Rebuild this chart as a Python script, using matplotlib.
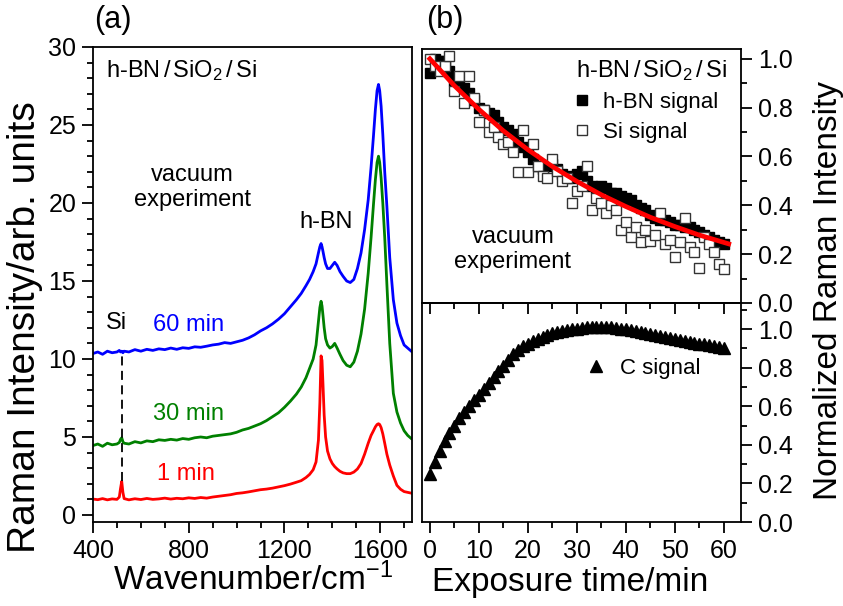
import numpy as np
import matplotlib
matplotlib.use("Agg")
import matplotlib.pyplot as plt
from matplotlib.ticker import MultipleLocator, FormatStrFormatter

plt.rcParams['font.family'] = ['Liberation Sans', 'DejaVu Sans']
plt.rcParams['mathtext.fontset'] = 'custom'
plt.rcParams['mathtext.rm'] = 'Liberation Sans'
plt.rcParams['mathtext.it'] = 'Liberation Sans:italic'

# ---------------- Panel (a): Raman spectra ----------------
wavenumber = np.array([
    400, 420, 440, 460, 480, 500, 510, 515, 520, 525,
    530, 550, 575, 600, 625, 650, 675, 700, 725, 750,
    775, 800, 825, 850, 875, 900, 925, 950, 975, 1000,
    1025, 1050, 1075, 1100, 1125, 1150, 1175, 1200, 1225, 1250,
    1270, 1290, 1305, 1320, 1332, 1342, 1348, 1353, 1357, 1361,
    1366, 1372, 1380, 1390, 1400, 1410, 1420, 1432, 1445, 1460,
    1475, 1490, 1505, 1520, 1535, 1550, 1562, 1572, 1580, 1587,
    1593, 1598, 1604, 1611, 1619, 1628, 1640, 1655, 1670, 1685,
    1700, 1715, 1730])

int_1min = np.array([
    1.02, 0.98, 1.05, 0.97, 1.03, 1.00, 1.15, 1.70, 2.15, 1.45,
    1.05, 0.97, 1.04, 0.99, 1.06, 1.00, 1.03, 1.08, 1.02, 1.07,
    1.04, 1.10, 1.06, 1.12, 1.08, 1.15, 1.20, 1.25, 1.30, 1.38,
    1.42, 1.48, 1.55, 1.62, 1.66, 1.72, 1.80, 1.88, 1.98, 2.10,
    2.20, 2.40, 2.60, 2.90, 3.40, 4.80, 7.20, 10.20, 9.90, 8.40,
    6.40, 5.00, 4.10, 3.60, 3.30, 3.10, 2.95, 2.80, 2.70, 2.65,
    2.65, 2.75, 2.95, 3.30, 3.90, 4.60, 5.10, 5.40, 5.65, 5.80,
    5.85, 5.80, 5.60, 5.20, 4.60, 3.90, 3.20, 2.50, 1.90, 1.65,
    1.50, 1.45, 1.40])

int_30min = np.array([
    4.45, 4.55, 4.40, 4.60, 4.50, 4.55, 4.65, 4.85, 4.95, 4.70,
    4.60, 4.55, 4.70, 4.62, 4.75, 4.70, 4.82, 4.78, 4.85, 4.80,
    4.90, 4.85, 4.95, 5.00, 4.95, 5.05, 5.10, 5.15, 5.20, 5.30,
    5.45, 5.55, 5.70, 5.85, 6.05, 6.30, 6.55, 6.90, 7.30, 7.75,
    8.20, 8.80, 9.40, 10.00, 10.90, 12.40, 13.30, 13.70, 13.40, 12.80,
    12.00, 11.30, 10.90, 10.70, 10.80, 11.00, 10.70, 10.30, 9.90, 9.60,
    9.50, 9.80, 10.50, 11.60, 13.20, 15.50, 17.80, 19.90, 21.50, 22.60,
    23.00, 22.60, 21.60, 20.00, 17.80, 14.80, 11.00, 7.80, 6.60, 5.90,
    5.40, 5.10, 4.90])

int_60min = np.array([
    10.35, 10.45, 10.30, 10.50, 10.40, 10.45, 10.55, 10.45, 10.50, 10.40,
    10.50, 10.45, 10.60, 10.50, 10.62, 10.55, 10.65, 10.60, 10.70, 10.62,
    10.72, 10.68, 10.78, 10.75, 10.82, 10.90, 10.95, 11.05, 11.00, 11.10,
    11.20, 11.35, 11.55, 11.80, 12.00, 12.25, 12.55, 12.90, 13.35, 13.80,
    14.20, 14.70, 15.10, 15.60, 16.10, 16.80, 17.20, 17.40, 17.20, 16.90,
    16.50, 16.10, 15.80, 15.80, 16.00, 16.20, 16.00, 15.60, 15.30, 15.00,
    14.90, 15.10, 15.80, 16.80, 18.30, 20.20, 22.30, 24.30, 26.00, 27.20,
    27.60, 27.20, 26.20, 24.40, 22.00, 19.80, 16.50, 13.80, 12.30, 11.50,
    10.90, 10.70, 10.50])

si_peak_position = 520
si_line_range = (2.2, 10.2)

# ---------------- Panel (b): normalized intensities ----------------
time_min = np.arange(0, 61)

hbn_signal = [
    0.94, 1.00, 0.99, 0.99, 0.95, 0.91, 0.90, 0.88, 0.86, 0.83,
    0.80, 0.79, 0.78, 0.77, 0.74, 0.72, 0.71, 0.69, 0.66, 0.64,
    0.62, 0.59, 0.56, 0.55, 0.56, 0.57, 0.55, 0.53, 0.52, 0.51,
    0.53, 0.54, 0.50, 0.48, 0.47, 0.48, 0.47, 0.45, 0.45, 0.44,
    0.43, 0.42, 0.40, 0.39, 0.38, 0.36, 0.35, 0.34, 0.34, 0.33,
    0.32, 0.32, 0.31, 0.31, 0.30, 0.29, 0.28, 0.27, 0.26, 0.25,
    0.24]

si_signal = [
    1.00, 0.97, 0.95, 0.97, 1.01, 0.87, 0.93, 0.82, 0.93, 0.84,
    0.74, 0.79, 0.70, 0.72, 0.68, 0.65, 0.66, 0.62, 0.535, 0.71,
    0.535, 0.65, 0.56, 0.52, 0.51, 0.59, 0.54, 0.50, 0.51, 0.41,
    0.46, 0.48, 0.56, 0.38, 0.43, 0.41, 0.37, 0.40, 0.38, 0.30,
    0.33, 0.27, 0.31, 0.25, 0.30, 0.255, 0.28, 0.37, 0.24, 0.26,
    0.19, 0.25, 0.35, 0.23, 0.21, 0.145, 0.27, 0.24, 0.21, 0.16,
    0.14]

fit_time = [0, 5, 10, 15, 20, 25, 30, 35, 40, 45, 50, 55, 60, 61]
fit_values = [1.00, 0.890, 0.793, 0.705, 0.628, 0.559, 0.498, 0.443,
              0.395, 0.351, 0.313, 0.278, 0.248, 0.242]

c_signal = [
    0.25, 0.31, 0.37, 0.42, 0.46, 0.50, 0.54, 0.57, 0.60, 0.63,
    0.66, 0.69, 0.72, 0.75, 0.78, 0.81, 0.84, 0.87, 0.89, 0.91,
    0.925, 0.94, 0.95, 0.96, 0.97, 0.98, 0.985, 0.99, 0.995, 1.00,
    1.00, 1.005, 1.01, 1.01, 1.01, 1.01, 1.01, 1.01, 1.005, 1.00,
    1.00, 0.995, 0.99, 0.985, 0.98, 0.975, 0.97, 0.965, 0.96, 0.955,
    0.95, 0.945, 0.94, 0.935, 0.93, 0.925, 0.92, 0.915, 0.91, 0.905,
    0.90]

# ---------------- Figure ----------------
fig = plt.figure(figsize=(8.43, 6.06), dpi=100)
W, H = 843.0, 606.0

def frac_rect(x0, y0, x1, y1):
    return [x0 / W, 1 - y1 / H, (x1 - x0) / W, (y1 - y0) / H]

axa = fig.add_axes(frac_rect(93, 47, 412, 522))
axb1 = fig.add_axes(frac_rect(422, 49, 741, 303))
axb2 = fig.add_axes(frac_rect(422, 303, 741, 522))

LW = 1.3
TICK_FS = 18
for ax in (axa, axb1, axb2):
    for s in ax.spines.values():
        s.set_linewidth(LW)

# Panel (a)
axa.plot(wavenumber, int_1min, color='#ff0000', lw=2.0)
axa.plot(wavenumber, int_30min, color='#008000', lw=2.0)
axa.plot(wavenumber, int_60min, color='#0000ff', lw=2.0)
axa.plot([si_peak_position, si_peak_position], si_line_range, color='black',
         lw=1.3, ls=(0, (5, 3)))
axa.set_xlim(400, 1733)
axa.set_ylim(-0.45, 30)
axa.xaxis.set_major_locator(MultipleLocator(400))
axa.xaxis.set_minor_locator(MultipleLocator(100))
axa.yaxis.set_major_locator(MultipleLocator(5))
axa.yaxis.set_minor_locator(MultipleLocator(1))
axa.tick_params(which='both', direction='out', top=False, right=False,
                width=LW, labelsize=TICK_FS)
axa.tick_params(which='major', length=8, pad=4)
axa.tick_params(which='minor', length=4)

fig.text(253 / W, 1 - 580 / H, r'Wavenumber/cm$^{-1}$', fontsize=24,
         ha='center', va='center')
fig.text(25 / W, 1 - 327 / H, 'Raman Intensity/arb. units', fontsize=28,
         rotation=90, ha='center', va='center')

txt_fs = 17
axa.text(455, 28.5, r'h-BN$\,$/$\,$SiO$_2$$\,$/$\,$Si', fontsize=txt_fs,
         ha='left', va='center')
axa.text(815, 21.0, 'vacuum\nexperiment', fontsize=txt_fs, ha='center',
         va='center', linespacing=1.2)
axa.text(1375, 18.8, 'h-BN', fontsize=txt_fs, ha='center', va='center')
axa.text(500, 12.3, 'Si', fontsize=txt_fs, ha='center', va='center')
axa.text(800, 12.2, '60 min', fontsize=txt_fs, ha='center', va='center',
         color='#0000ff')
axa.text(800, 6.5, '30 min', fontsize=txt_fs, ha='center', va='center',
         color='#008000')
axa.text(790, 2.6, '1 min', fontsize=txt_fs, ha='center', va='center',
         color='#ff0000')
fig.text(113 / W, 1 - 20 / H, '(a)', fontsize=22, ha='center', va='center')
fig.text(445 / W, 1 - 20 / H, '(b)', fontsize=22, ha='center', va='center')

# Panel (b) top
h_hbn, = axb1.plot(time_min, hbn_signal, ls='none', marker='s', ms=7,
                   mfc='black', mec='black', label='h-BN signal')
h_si, = axb1.plot(time_min, si_signal, ls='none', marker='s', ms=7,
                  mfc='white', mec='#333333', mew=1.0, label='Si signal')
axb1.plot(fit_time, fit_values, color='#ff0000', lw=3.4)
axb1.set_xlim(-1.6, 63.5)
axb1.set_ylim(0, 1.04)
axb1.yaxis.set_major_locator(MultipleLocator(0.2))
axb1.yaxis.set_minor_locator(MultipleLocator(0.1))
axb1.yaxis.tick_right()
axb1.tick_params(axis='x', which='both', bottom=False, top=False,
                 labelbottom=False)
axb1.tick_params(axis='y', which='both', direction='out', left=False,
                 right=True, width=LW, labelsize=TICK_FS)
axb1.tick_params(axis='y', which='major', length=8, pad=4)
axb1.tick_params(axis='y', which='minor', length=4)
axb1.yaxis.set_major_formatter(FormatStrFormatter('%.1f'))
axb1.text((727 - 422) / 319.0, 0.915, r'h-BN$\,$/$\,$SiO$_2$$\,$/$\,$Si',
          fontsize=17, ha='right', va='center', transform=axb1.transAxes)
axb1.legend(handles=[h_hbn, h_si], loc='upper left',
            bbox_to_anchor=(0.467, 0.83), frameon=False, fontsize=16,
            handlelength=1.0, handletextpad=0.45, borderpad=0,
            labelspacing=0.4, borderaxespad=0)
axb1.text(0.285, 0.21, 'vacuum\nexperiment', fontsize=txt_fs, ha='center',
          va='center', linespacing=1.2, transform=axb1.transAxes)

# Panel (b) bottom
h_c, = axb2.plot(time_min, c_signal, ls='none', marker='^', ms=8.5,
                 mfc='black', mec='black', label='C signal')
axb2.set_xlim(-1.6, 63.5)
axb2.set_ylim(0, 1.135)
axb2.xaxis.set_major_locator(MultipleLocator(10))
axb2.xaxis.set_minor_locator(MultipleLocator(5))
axb2.yaxis.set_major_locator(MultipleLocator(0.2))
axb2.yaxis.set_minor_locator(MultipleLocator(0.1))
axb2.yaxis.tick_right()
axb2.yaxis.set_major_formatter(FormatStrFormatter('%.1f'))
axb2.tick_params(axis='x', which='both', direction='out', bottom=True,
                 top=False, width=LW, labelsize=TICK_FS)
axb2.tick_params(axis='x', which='major', length=8, pad=4)
axb2.tick_params(axis='x', which='minor', length=4)
axb2.tick_params(axis='y', which='both', direction='out', left=False,
                 right=True, width=LW, labelsize=TICK_FS)
axb2.tick_params(axis='y', which='major', length=8, pad=4)
axb2.tick_params(axis='y', which='minor', length=4)
# inward ticks on top edge of the lower panel
sec = axb2.secondary_xaxis('top')
sec.xaxis.set_major_locator(MultipleLocator(10))
sec.xaxis.set_minor_locator(MultipleLocator(5))
sec.tick_params(which='both', direction='in', width=LW, labeltop=False)
sec.tick_params(which='major', length=8)
sec.tick_params(which='minor', length=4)
sec.spines['top'].set_linewidth(LW)
axb2.legend(handles=[h_c], loc='upper left', bbox_to_anchor=(0.51, 0.748),
            frameon=False, fontsize=16, handlelength=1.0,
            handletextpad=0.6, borderpad=0, borderaxespad=0)

fig.text(570 / W, 1 - 582 / H, 'Exposure time/min', fontsize=24,
         ha='center', va='center')
fig.text(828 / W, 1 - 290 / H, 'Normalized Raman Intensity', fontsize=24,
         rotation=90, ha='center', va='center')

fig.savefig('out.png', dpi=100)
